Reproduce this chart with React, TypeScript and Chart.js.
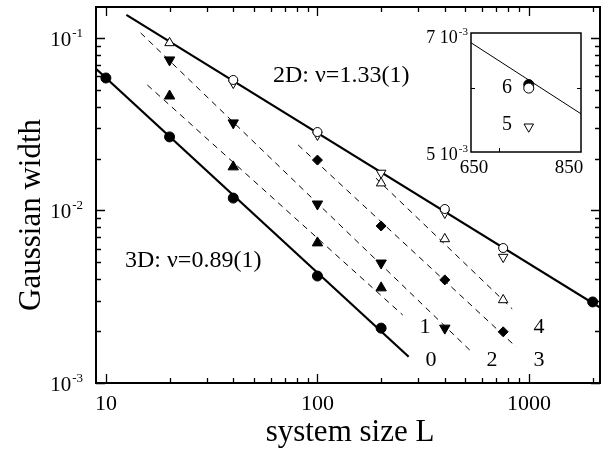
import React, { useEffect, useRef } from 'react';
import { Chart, registerables } from 'chart.js';
Chart.register(...registerables);

const FONT = '"Liberation Serif", "Times New Roman", serif';

// ---- data (system size L, Gaussian width) ----
const L0 = [10, 20, 40, 100, 200];
const W0 = [0.0586, 0.0267, 0.0118, 0.00417, 0.00208];
const L1 = [20, 40, 100, 200];
const W1 = [0.0461, 0.0179, 0.00649, 0.00356];
const L2 = [20, 40, 100, 200, 400];
const W2 = [0.0746, 0.0322, 0.0109, 0.00496, 0.00208];
const L3 = [100, 200, 400, 755];
const W3 = [0.0196, 0.00813, 0.00396, 0.00198];
const L4 = [20, 200, 400, 755];
const W4 = [0.0936, 0.0144, 0.00684, 0.00303];
const L5 = [40, 100, 200, 400, 755];
const W5 = [0.0548, 0.0274, 0.0165, 0.00967, 0.00537];
const L6 = [40, 100, 400, 755];
const W6 = [0.0571, 0.0285, 0.0102, 0.00606];
const L6F = [2000];
const W6F = [0.00295];

// fitted lines (end points)
const FIT3D_L = [8.98, 270];
const FIT3D_W = [0.0662, 0.00142];
const FIT1_L = [15.7, 253];
const FIT1_W = [0.0534, 0.00248];
const FIT2_L = [14.6, 537];
const FIT2_W = [0.107, 0.00151];
const FIT3_L = [81, 869];
const FIT3_W = [0.024, 0.00162];
const FIT4_L = [189, 833];
const FIT4_W = [0.0154, 0.00269];
const FIT2D_L = [12.5, 2166];
const FIT2D_W = [0.136, 0.00274];

// axes
const X_MIN = 8.98;
const X_MAX = 2166;
const Y_MIN = 0.001;
const Y_MAX = 0.1512;
const X_TICKS = [10, 100, 1000];
const X_TICK_LABELS = ['10', '100', '1000'];
const Y_TICKS = [0.001, 0.01, 0.1];
const Y_TICK_EXP = ['-3', '-2', '-1'];

// inset
const INSET_L = [755];
const INSET_W6_OPEN = [0.00599];
const INSET_W6_FILLED = [0.00605];
const INSET_W5 = [0.00537];
const INSET_FIT_L = [650, 850];
const INSET_FIT_W = [0.00681, 0.00557];
const INSET_X_TICKS = [650, 850];
const INSET_X_MINOR = [700];
const INSET_Y_TICKS = [0.005, 0.007];
const INSET_Y_TICK_LABELS = ['5 10', '7 10'];
const INSET_Y_MINOR = [0.006];

const pts = (xs: number[], ys: number[]) => xs.map((x, i) => ({ x, y: ys[i] }));

const markers = (
  xs: number[], ys: number[], style: string, filled: boolean, r: number, rot = 0
) => ({
  data: pts(xs, ys),
  showLine: false,
  pointStyle: style,
  pointRadius: r,
  pointRotation: rot,
  pointBackgroundColor: filled ? '#000' : '#fff',
  pointBorderColor: '#000',
  pointBorderWidth: 1,
});

const fitLine = (xs: number[], ys: number[], dashed: boolean, w: number) => ({
  data: pts(xs, ys),
  showLine: true,
  borderColor: '#000',
  borderWidth: w,
  borderDash: dashed ? [6, 5] : [],
  pointRadius: 0,
  fill: false,
});

function drawSup(ctx: CanvasRenderingContext2D, base: string, exp: string, rightX: number, baseY: number, bigPx: number, smallPx: number, supRise: number) {
  ctx.font = `${smallPx}px ${FONT}`;
  const we = ctx.measureText(exp).width;
  ctx.font = `${bigPx}px ${FONT}`;
  const wb = ctx.measureText(base).width;
  ctx.textAlign = 'left';
  ctx.textBaseline = 'alphabetic';
  ctx.fillText(base, rightX - we - wb - 1, baseY);
  ctx.font = `${smallPx}px ${FONT}`;
  ctx.fillText(exp, rightX - we, baseY - supRise);
}

const mainPlugin = {
  id: 'mainDecor',
  afterDraw(chart: any) {
    const { ctx, chartArea: a } = chart;
    const xs = chart.scales.x;
    const ys = chart.scales.y;
    ctx.save();
    ctx.fillStyle = '#000';
    ctx.strokeStyle = '#000';
    // frame
    ctx.lineWidth = 2;
    ctx.strokeRect(a.left, a.top, a.right - a.left, a.bottom - a.top);
    // ticks
    ctx.lineWidth = 1.3;
    ctx.beginPath();
    for (let d = 10; d <= 1000; d *= 10) {
      for (let m = 1; m <= 9; m++) {
        const v = d * m;
        if (v < X_MIN || v > X_MAX) continue;
        const px = Math.round(xs.getPixelForValue(v)) + 0.5;
        const len = m === 1 ? 9 : 5;
        ctx.moveTo(px, a.bottom);
        ctx.lineTo(px, a.bottom - len);
        ctx.moveTo(px, a.top);
        ctx.lineTo(px, a.top + len);
      }
    }
    for (let d = 0.001; d <= 0.1 + 1e-9; d *= 10) {
      for (let m = 1; m <= 9; m++) {
        const v = d * m;
        if (v < Y_MIN * 0.999 || v > Y_MAX) continue;
        const py = Math.round(ys.getPixelForValue(v)) + 0.5;
        const len = m === 1 ? 9 : 5;
        ctx.moveTo(a.left, py);
        ctx.lineTo(a.left + len, py);
        ctx.moveTo(a.right, py);
        ctx.lineTo(a.right - len, py);
      }
    }
    ctx.stroke();

    // x tick labels
    ctx.font = `22px ${FONT}`;
    ctx.textAlign = 'center';
    ctx.textBaseline = 'alphabetic';
    X_TICKS.forEach((v, i) => {
      ctx.fillText(X_TICK_LABELS[i], xs.getPixelForValue(v), a.bottom + 27);
    });
    // y tick labels
    Y_TICKS.forEach((v, i) => {
      const py = ys.getPixelForValue(v);
      drawSup(ctx, '10', Y_TICK_EXP[i], a.left - 13, py + 8, 21, 13, 9);
    });

    // axis titles
    ctx.font = `31px ${FONT}`;
    ctx.textAlign = 'center';
    ctx.textBaseline = 'alphabetic';
    ctx.fillText('system size L', (a.left + a.right) / 2 + 2, 441);
    ctx.save();
    ctx.translate(40, (a.top + a.bottom) / 2 + 20);
    ctx.rotate(-Math.PI / 2);
    ctx.fillText('Gaussian width', 0, 0);
    ctx.restore();

    // annotations
    ctx.font = `24px ${FONT}`;
    ctx.textAlign = 'left';
    ctx.fillText('2D: \u03bd=1.33(1)', 273, 82);
    ctx.fillText('3D: \u03bd=0.89(1)', 125, 267);
    ctx.font = `22px ${FONT}`;
    ctx.textAlign = 'center';
    ctx.fillText('0', 431, 366);
    ctx.fillText('1', 425, 333);
    ctx.fillText('2', 492, 366);
    ctx.fillText('3', 539, 366);
    ctx.fillText('4', 539, 333);
    ctx.restore();
  },
};

const insetPlugin = {
  id: 'insetDecor',
  beforeDatasetsDraw(chart: any) {
    const { ctx, chartArea: a } = chart;
    ctx.save();
    ctx.fillStyle = '#fff';
    ctx.fillRect(a.left, a.top, a.right - a.left, a.bottom - a.top);
    ctx.restore();
  },
  afterDraw(chart: any) {
    const { ctx, chartArea: a } = chart;
    const xs = chart.scales.x;
    const ys = chart.scales.y;
    ctx.save();
    ctx.fillStyle = '#000';
    ctx.strokeStyle = '#000';
    ctx.lineWidth = 1.5;
    ctx.strokeRect(a.left, a.top, a.right - a.left, a.bottom - a.top);
    ctx.lineWidth = 1;
    ctx.beginPath();
    INSET_X_MINOR.forEach((v) => {
      const px = Math.round(xs.getPixelForValue(v)) + 0.5;
      ctx.moveTo(px, a.bottom);
      ctx.lineTo(px, a.bottom - 4);
    });
    INSET_Y_MINOR.forEach((v) => {
      const py = Math.round(ys.getPixelForValue(v)) + 0.5;
      ctx.moveTo(a.left, py);
      ctx.lineTo(a.left + 4, py);
      ctx.moveTo(a.right, py);
      ctx.lineTo(a.right - 4, py);
    });
    ctx.stroke();

    // y labels
    INSET_Y_TICKS.forEach((v, i) => {
      const py = ys.getPixelForValue(v);
      const top = i === 1;
      drawSup(ctx, INSET_Y_TICK_LABELS[i], '-3', a.left - 3, top ? py + 10 : py + 8, 18, 11, 8);
    });
    // x labels
    ctx.font = `19px ${FONT}`;
    ctx.textAlign = 'center';
    ctx.textBaseline = 'alphabetic';
    ctx.fillText('650', xs.getPixelForValue(INSET_X_TICKS[0]) + 3, a.bottom + 21);
    ctx.fillText('850', xs.getPixelForValue(INSET_X_TICKS[1]) - 12, a.bottom + 21);
    // series labels
    ctx.font = `20px ${FONT}`;
    ctx.fillText('6', 82, 73);
    ctx.fillText('5', 82, 110);
    ctx.restore();
  },
};

export default function App() {
  const mainRef = useRef<HTMLCanvasElement>(null);
  const insetRef = useRef<HTMLCanvasElement>(null);

  useEffect(() => {
    const main = new Chart(mainRef.current as HTMLCanvasElement, {
      type: 'scatter',
      data: {
        datasets: [
          markers(L6F, W6F, 'circle', true, 5),
          markers(L6, W6, 'circle', false, 4.5),
          markers(L5, W5, 'triangle', false, 5.5, 180),
          markers(L4, W4, 'triangle', false, 5.5),
          markers(L3, W3, 'rectRot', true, 5),
          markers(L2, W2, 'triangle', true, 6, 180),
          markers(L1, W1, 'triangle', true, 6),
          markers(L0, W0, 'circle', true, 5),
          fitLine(FIT3D_L, FIT3D_W, false, 2.2),
          fitLine(FIT2D_L, FIT2D_W, false, 2.2),
          fitLine(FIT1_L, FIT1_W, true, 1),
          fitLine(FIT2_L, FIT2_W, true, 1),
          fitLine(FIT3_L, FIT3_W, true, 1),
          fitLine(FIT4_L, FIT4_W, true, 1),
        ] as any,
      },
      options: {
        responsive: false,
        animation: false,
        devicePixelRatio: 1,
        events: [],
        layout: { padding: { left: 96, top: 7, right: 0, bottom: 72 } },
        plugins: { legend: { display: false }, tooltip: { enabled: false } },
        scales: {
          x: { type: 'logarithmic', min: X_MIN, max: X_MAX, display: false, bounds: 'data' } as any,
          y: { type: 'logarithmic', min: Y_MIN, max: Y_MAX, display: false, bounds: 'data' } as any,
        },
      },
      plugins: [mainPlugin],
    });

    const inset = new Chart(insetRef.current as HTMLCanvasElement, {
      type: 'scatter',
      data: {
        datasets: [
          markers(INSET_L, INSET_W6_OPEN, 'circle', false, 5),
          markers(INSET_L, INSET_W6_FILLED, 'circle', true, 5),
          markers(INSET_L, INSET_W5, 'triangle', false, 5.5, 180),
          fitLine(INSET_FIT_L, INSET_FIT_W, false, 1),
        ] as any,
      },
      options: {
        responsive: false,
        animation: false,
        devicePixelRatio: 1,
        events: [],
        layout: { padding: { left: 46, top: 13, right: 17, bottom: 33 } },
        plugins: { legend: { display: false }, tooltip: { enabled: false } },
        scales: {
          x: { type: 'linear', min: 650, max: 850, display: false } as any,
          y: { type: 'logarithmic', min: 0.005, max: 0.007, display: false, bounds: 'data' } as any,
        },
      },
      plugins: [insetPlugin],
    });

    return () => {
      main.destroy();
      inset.destroy();
    };
  }, []);

  return (
    <div style={{ position: 'absolute', left: 0, top: 0, width: 607, height: 455, background: '#fff' }}>
      <canvas
        ref={mainRef}
        width={607}
        height={455}
        style={{ position: 'absolute', left: 0, top: 0, width: 607, height: 455 }}
      />
      <canvas
        ref={insetRef}
        width={173}
        height={165}
        style={{ position: 'absolute', left: 425, top: 20, width: 173, height: 165 }}
      />
    </div>
  );
}
